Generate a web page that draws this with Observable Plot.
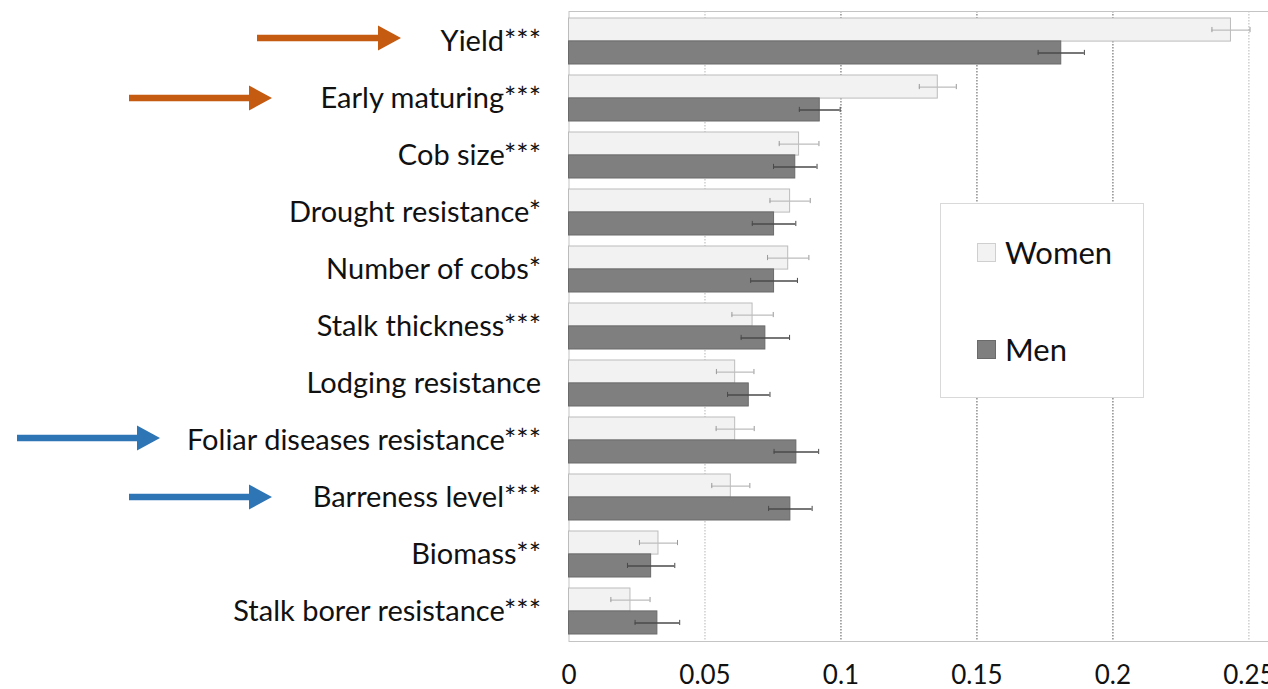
<!DOCTYPE html>
<html><head><meta charset="utf-8">
<script src="https://cdn.jsdelivr.net/npm/d3@7"></script>
<script src="https://cdn.jsdelivr.net/npm/@observablehq/plot@0.6"></script>
<style>
body{margin:0;background:#fff;font-family:Lato,sans-serif;}
#wrap{position:relative;width:1268px;height:689px;overflow:hidden;}
#legend{position:absolute;left:940px;top:203px;width:202px;height:193px;border:1px solid #d9d9d9;background:#fff;font-family:Lato,sans-serif;font-size:31px;color:#111;}
.item{position:absolute;left:36px;display:flex;align-items:center;}
.sw{width:19px;height:19px;margin-right:9px;box-sizing:border-box;}
</style></head><body><div id="wrap"></div>
<script>
const categories = ["Yield***","Early maturing***","Cob size***","Drought resistance*","Number of cobs*","Stalk thickness***","Lodging resistance","Foliar diseases resistance***","Barreness level***","Biomass**","Stalk borer resistance***"];
const series = ["Women","Men"];
const women = [0.2434,0.1356,0.0846,0.0813,0.0806,0.0675,0.0611,0.0611,0.0595,0.0329,0.0226];
const men = [0.1810,0.0922,0.0832,0.0754,0.0754,0.0722,0.0661,0.0836,0.0814,0.0302,0.0325];
const womenErr = [0.0070,0.0068,0.0073,0.0074,0.0076,0.0076,0.0069,0.0070,0.0070,0.0070,0.0072];
const menErr = [0.0085,0.0075,0.0080,0.0080,0.0086,0.0089,0.0078,0.0082,0.0080,0.0087,0.0082];
const xTicks = [0,0.05,0.1,0.15,0.2,0.25];
const orangeArrows = ["Yield***","Early maturing***"];
const blueArrows = ["Foliar diseases resistance***","Barreness level***"];

const W = 1268, H = 689, mt = 11, mb = 48, ml = 568.5;
const pIn = 0.2, pOut = 0.1;
const step = (H - mt - mb) / (categories.length - pIn + 2 * pOut);
const bw = step * (1 - pIn);
const half = bw / 2;

const womenData = categories.map((c,i)=>({cat:c, v:women[i], e:womenErr[i]}));
const menData = categories.map((c,i)=>({cat:c, v:men[i], e:menErr[i]}));

const capH = 5;
const plot = Plot.plot({
  width: W, height: H,
  marginLeft: ml, marginRight: 0, marginTop: mt, marginBottom: mb,
  style: {fontFamily: "Lato, sans-serif", fontSize: "26px", color: "#111", background: "transparent"},
  x: {domain: [0, 0.2572], ticks: xTicks, tickFormat: d => d === 0 ? "0" : String(d), tickSize: 0, tickPadding: 24, label: null},
  y: {domain: categories, paddingInner: pIn, paddingOuter: pOut, tickSize: 0, tickPadding: 28, label: null},
  marks: [
    Plot.ruleX(xTicks.filter(d => d > 0), {stroke: d => (d === 0.05 || d === 0.25) ? "#b5b5b5" : "#555", strokeDasharray: "1.5,1.5", strokeWidth: 1}),
    Plot.frame({stroke: "#c4c4c4"}),
    Plot.barX(womenData, {x: "v", y: "cat", fill: "#f2f2f2", stroke: "#bcbcbc", strokeWidth: 1, insetBottom: half}),
    Plot.barX(menData, {x: "v", y: "cat", fill: "#7f7f7f", stroke: "#6a6a6a", strokeWidth: 1, insetTop: half}),
    Plot.ruleY(womenData, {y: "cat", x1: d => d.v - d.e, x2: d => d.v + d.e, dy: -half/2, stroke: "#bdbdbd", strokeWidth: 1.2}),
    Plot.ruleY(menData, {y: "cat", x1: d => d.v - d.e, x2: d => d.v + d.e, dy: half/2, stroke: "#4a4a4a", strokeWidth: 1.5}),
    Plot.tickX(womenData, {x: d => d.v - d.e, y: "cat", stroke: "#9a9a9a", insetTop: half/2 - capH/2, insetBottom: bw - half/2 - capH/2}),
    Plot.tickX(womenData, {x: d => d.v + d.e, y: "cat", stroke: "#9a9a9a", insetTop: half/2 - capH/2, insetBottom: bw - half/2 - capH/2}),
    Plot.tickX(menData, {x: d => d.v - d.e, y: "cat", stroke: "#4a4a4a", insetTop: half + half/2 - capH/2, insetBottom: half/2 - capH/2}),
    Plot.tickX(menData, {x: d => d.v + d.e, y: "cat", stroke: "#4a4a4a", insetTop: half + half/2 - capH/2, insetBottom: half/2 - capH/2})
  ]
});
document.getElementById("wrap").appendChild(plot);

const svg = d3.select(plot);
// category labels are set larger than the x tick labels
svg.selectAll('g[aria-label^="y-axis"]').attr("font-size", 29);

// annotation arrows in the left margin, placed at the band centers
const ys = plot.scale("y");
const arrowSpec = [
  {cat: orangeArrows[0], x0: 257, x1: 401, color: "#c55a11", off: -3},
  {cat: orangeArrows[1], x0: 129, x1: 272, color: "#c55a11", off: 0},
  {cat: blueArrows[0], x0: 17, x1: 160, color: "#2e75b6", off: -2},
  {cat: blueArrows[1], x0: 129, x1: 272, color: "#2e75b6", off: 0}
];
for (const a of arrowSpec) {
  const cy = ys.apply(a.cat) + ys.bandwidth / 2 + a.off;
  const headL = 23, headH = 12.5, sh = 3.2;
  const hx = a.x1 - headL;
  svg.append("path")
    .attr("d", `M${a.x0},${cy-sh}L${hx},${cy-sh}L${hx},${cy-headH}L${a.x1},${cy}L${hx},${cy+headH}L${hx},${cy+sh}L${a.x0},${cy+sh}Z`)
    .attr("fill", a.color);
}

// legend box overlaid on the plot area
const lg = document.createElement("div");
lg.id = "legend";
const fills = {Women: ["#f2f2f2", "#cfcfcf"], Men: ["#7f7f7f", "#6a6a6a"]};
series.forEach((s, i) => {
  const it = document.createElement("div");
  it.className = "item";
  it.style.top = (i === 0 ? 29 : 126) + "px";
  const sw = document.createElement("div");
  sw.className = "sw";
  sw.style.background = fills[s][0];
  sw.style.border = "1px solid " + fills[s][1];
  const t = document.createElement("span");
  t.textContent = s;
  it.appendChild(sw); it.appendChild(t);
  lg.appendChild(it);
});
document.getElementById("wrap").appendChild(lg);
</script>
</body></html>
